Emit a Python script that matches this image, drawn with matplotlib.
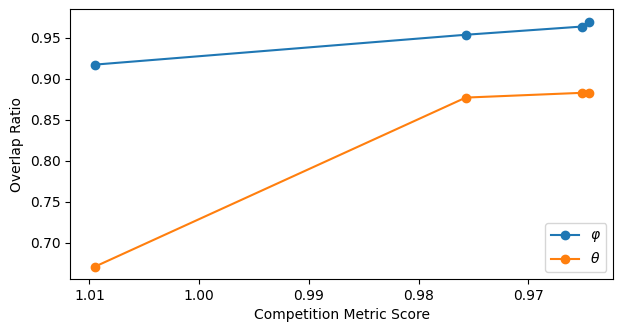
import matplotlib
matplotlib.use("Agg")
import matplotlib.pyplot as plt

# Competition metric scores (x axis, inverted)
scores = [1.0095, 0.9757, 0.9651, 0.9645]
phi_overlap = [0.9174, 0.9538, 0.9638, 0.9699]
theta_overlap = [0.6711, 0.8772, 0.8830, 0.8830]

fig, ax = plt.subplots(figsize=(6.22, 3.32), dpi=100)
fig.subplots_adjust(left=0.113, right=0.986, top=0.972, bottom=0.160)

ax.plot(scores, phi_overlap, marker='o', label=r'$\varphi$')
ax.plot(scores, theta_overlap, marker='o', label=r'$\theta$')
ax.invert_xaxis()
ax.set_xticks([1.01, 1.00, 0.99, 0.98, 0.97])
ax.set_xlabel('Competition Metric Score')
ax.set_ylabel('Overlap Ratio')
ax.legend(loc='lower right')

fig.savefig('out.png', dpi=100)
